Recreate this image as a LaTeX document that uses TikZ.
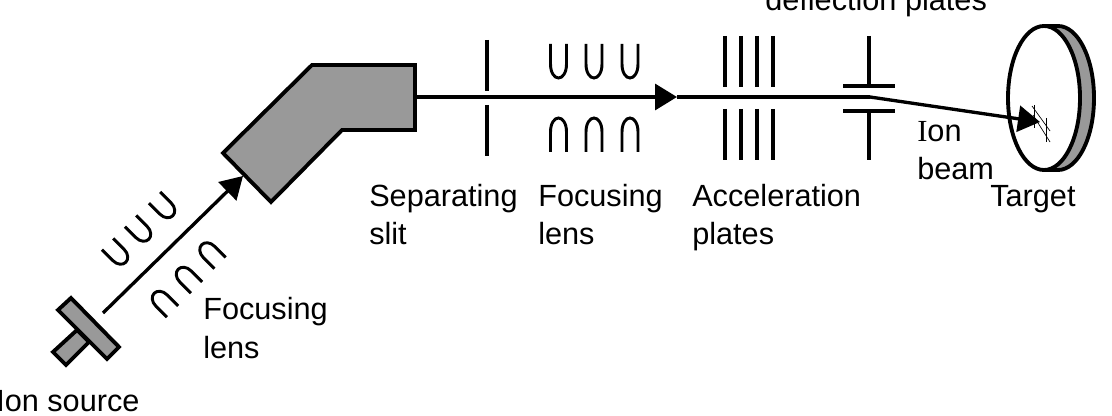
\documentclass[tikz,border=0pt]{standalone}
\usepackage{fontspec}
\setmainfont{Liberation Sans}
\newfontfamily\romanI{Liberation Serif}
\usetikzlibrary{arrows.meta}
\tikzset{
  lens/.pic={\draw[lensline] (-8,0) -- (-8,20) .. controls (-8,29) and (-4,34) .. (0,34) .. controls (4,34) and (8,29) .. (8,20) -- (8,0);},
  lensline/.style={line width=2.2pt},
  beam/.style={line width=2.5pt},
  plate/.style={line width=2.4pt},
  body/.style={draw=black,fill=black!40,line width=2.9pt,line join=miter},
  hatch/.style={line width=.5pt},
  labeltext/.style={anchor=base west,inner sep=0pt,align=left,font=\fontsize{23}{29}\selectfont},
}
\begin{document}
\begin{tikzpicture}[x=.75pt,y=-.75pt]
\path[use as bounding box] (0,0) rectangle (1112,416);
% ion source
\draw[body] (77,330) -- (53,352) -- (66,365) -- (89,342) -- cycle;
\draw[body] (58,310) -- (71,298) -- (119,347) -- (107,359) -- cycle;
% magnet
\draw[body] (312,65) -- (415,65) -- (415,130) -- (342,130) -- (271,202) -- (223,153) -- cycle;
% beam
\coordinate (start) at (103,313);
\coordinate (magnetin) at (243,176);
\coordinate (magnetout) at (417,97);
\coordinate (bend) at (870,97);
\coordinate (spot) at (1040,122);
\coordinate (mid) at (677,97);
\draw[beam,-{Triangle[length=16.5pt,width=19pt]}] (start) -- (magnetin);
\draw[beam,-{Triangle[length=16.5pt,width=19.5pt]}] (magnetout) -- (mid);
\draw[beam] (mid) -- (bend);
% lenses
\foreach \x/\y in {107.5/244,130.5/221,154.5/197.5}
  \pic[rotate=45,yscale=.76] at (\x,\y) {lens};
\foreach \x/\y in {172.5/311.5,196.5/287.5,220/263}
  \pic[rotate=45,yscale=-.76] at (\x,\y) {lens};
\foreach \x in {558.5,594,630}{
  \pic at (\x,44) {lens};
  \pic[yscale=-1] at (\x,152) {lens};
}
% slit
\draw[plate] (487,40) -- (487,91);
\draw[plate] (487,105) -- (487,156);
% acceleration plates
\foreach \x in {725,741,757,773}{
  \draw[plate] (\x,36) -- (\x,87);
  \draw[plate] (\x,109) -- (\x,160);
}
% deflection plates
\draw[plate] (869,36) -- (869,86);
\draw[plate] (843,86) -- (895,86);
\draw[plate] (843,111) -- (895,111);
\draw[plate] (869,111) -- (869,160);
% target
\draw[body,line join=round] (1044,26) -- (1058,26) arc[start angle=90,end angle=-90,x radius=36,y radius=-72] -- (1044,170) -- cycle;
\draw[fill=white,line width=2.9pt] (1044,98) ellipse[x radius=36,y radius=72];
\draw[beam,-{Triangle[length=16.5pt,width=19.5pt]}] (bend) -- (spot);
\draw[hatch] (1034,105) -- (1034,128);
\draw[hatch] (1046,118) -- (1046,142);
\draw[hatch] (1032,106) -- (1050,131);
\draw[hatch] (1033,115) -- (1050,142);
% labels
\node[labeltext] (deflectlabel) at (765,11) {deflection plates};
\node[labeltext] (ionlabel) at (917,180) {{\romanI I}on\\beam};
\node[labeltext] (targetlabel) at (990,207) {Target};
\node[labeltext] (sliplabel) at (369,245) {Separating\\slit};
\node[labeltext] (lenslabel) at (538,245) {Focusing\\lens};
\node[labeltext] (accellabel) at (692,245) {Acceleration\\plates};
\node[labeltext] (lowlenslabel) at (203,358) {Focusing\\lens};
\node[labeltext] (sourcelabel) at (-4,411) {Ion source};
\end{tikzpicture}
\end{document}
